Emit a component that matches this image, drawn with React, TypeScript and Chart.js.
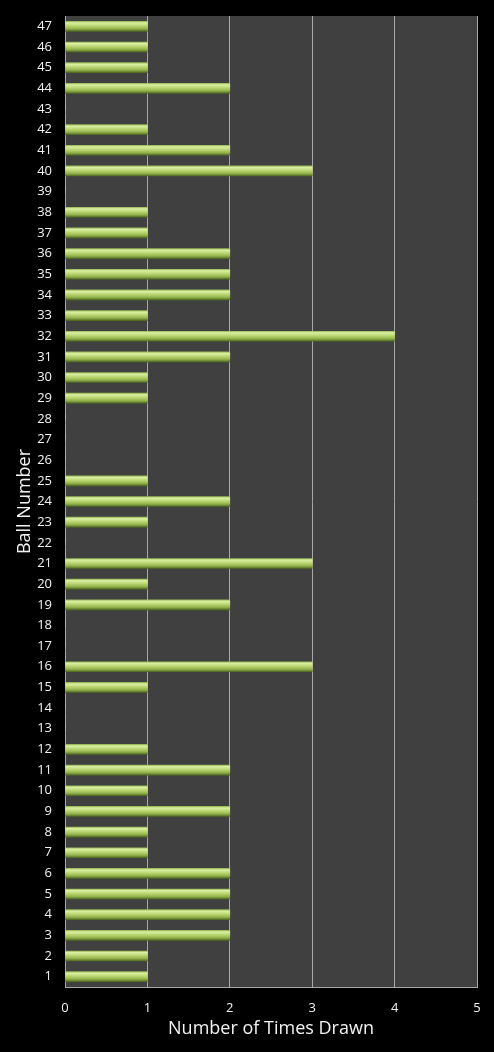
import React, { useEffect, useRef } from "react";
import { Chart, registerables } from "chart.js";

Chart.register(...registerables);

const ballNumbers: string[] = Array.from({ length: 47 }, (_, i) => String(i + 1));
const timesDrawn: number[] = [
  1, 1, 2, 2, 2, 2, 1, 1, 2, 1,
  2, 1, 0, 0, 1, 3, 0, 0, 2, 1,
  3, 0, 1, 2, 1, 0, 0, 0, 1, 1,
  2, 4, 1, 2, 2, 2, 1, 1, 0, 3,
  2, 1, 0, 2, 1, 1, 1,
];
const xTicks: number[] = [0, 1, 2, 3, 4, 5];

const FONT = "'Open Sans', 'DejaVu Sans', sans-serif";
const BAR_H = 10;

const plotBg = {
  id: "plotBg",
  beforeDraw(chart: any) {
    const { ctx, chartArea } = chart;
    ctx.save();
    ctx.fillStyle = "#404040";
    ctx.fillRect(chartArea.left, chartArea.top, chartArea.right - chartArea.left, chartArea.bottom - chartArea.top);
    ctx.restore();
  },
};

export default function App() {
  const ref = useRef<HTMLCanvasElement | null>(null);
  useEffect(() => {
    if (!ref.current) return;
    const chart = new Chart(ref.current, {
      type: "bar",
      data: {
        labels: ballNumbers,
        datasets: [
          {
            data: timesDrawn,
            barThickness: BAR_H,
            borderWidth: 0,
            backgroundColor: (c: any) => {
              const chart = c.chart;
              const y = chart.scales?.y;
              if (!y || c.dataIndex === undefined) return "#a6c65e";
              const cy = y.getPixelForValue(c.dataIndex);
              if (!Number.isFinite(cy)) return "#a6c65e";
              const g = chart.ctx.createLinearGradient(0, cy - BAR_H / 2, 0, cy + BAR_H / 2);
              g.addColorStop(0, "#9aba55");
              g.addColorStop(0.15, "#dcefa4");
              g.addColorStop(0.45, "#bad672");
              g.addColorStop(0.75, "#93b24c");
              g.addColorStop(1, "#506b22");
              return g;
            },
          },
        ],
      },
      options: {
        indexAxis: "y",
        responsive: false,
        animation: false,
        layout: { padding: { top: 16, right: 17, bottom: 0, left: 0 } },
        plugins: { legend: { display: false }, tooltip: { enabled: false } },
        scales: {
          x: {
            min: 0,
            max: 5,
            afterBuildTicks: (s: any) => {
              s.ticks = xTicks.map((v) => ({ value: v }));
            },
            grid: { color: "#a8a8a8", lineWidth: 1, drawTicks: false },
            border: { display: true, color: "#a8a8a8" },
            ticks: { color: "#f2f2f2", font: { family: FONT, size: 13 }, padding: 13 },
            title: {
              display: true,
              text: "Number of Times Drawn",
              color: "#f2f2f2",
              font: { family: FONT, size: 18 },
              padding: { top: 2, bottom: 12 },
            },
            afterFit: (s: any) => {
              s.height = 65;
              s.paddingLeft = 0;
              s.paddingRight = 0;
            },
          },
          y: {
            reverse: true,
            grid: { display: false, drawTicks: false },
            border: { display: false },
            ticks: { color: "#f2f2f2", font: { family: FONT, size: 13 }, padding: 13, autoSkip: false },
            title: {
              display: true,
              text: "Ball Number",
              color: "#f2f2f2",
              font: { family: FONT, size: 18 },
              padding: { top: 14, bottom: 0 },
            },
            afterFit: (s: any) => {
              s.width = 65;
              s.paddingTop = 0;
              s.paddingBottom = 0;
            },
          },
        },
      },
      plugins: [plotBg],
    } as any);
    return () => chart.destroy();
  }, []);
  return (
    <div style={{ position: "fixed", left: 0, top: 0, width: 494, height: 1052, background: "#000" }}>
      <canvas ref={ref} width={494} height={1052} style={{ display: "block", width: 494, height: 1052 }} />
    </div>
  );
}
